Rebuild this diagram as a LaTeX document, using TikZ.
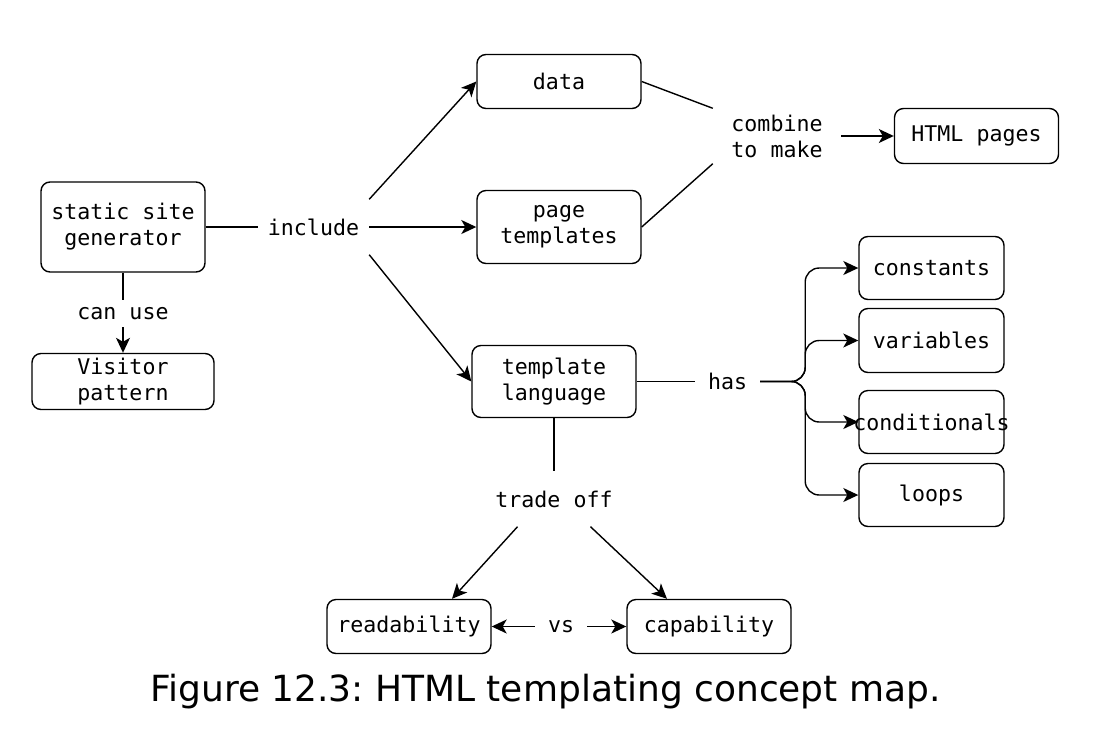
\documentclass[tikz,border=0pt]{standalone}
\usepackage{fontspec}
\setmainfont{DejaVu Sans}
\newfontfamily\monof{DejaVu Sans Mono}
\usetikzlibrary{arrows.meta,calc}
\frenchspacing
\begin{document}
\begin{tikzpicture}[x=1pt,y=-1pt,
  box/.style={draw, rounded corners=9pt, line width=1.4pt, inner sep=0pt, align=center,
    font=\monof\fontsize{21.6}{26}\selectfont},
  lbl/.style={inner sep=0pt, align=center, font=\monof\fontsize{21.6}{26}\selectfont},
  conn/.style={line width=1.4pt},
  arr/.style={conn, -{Stealth[length=15pt,width=14pt,inset=4pt]}},
  capt/.style={font=\fontsize{36}{43}\selectfont, inner sep=0pt}
]
\useasboundingbox (0,0) rectangle (1101,732);
% concept boxes
\node[box,minimum width=164pt,minimum height=90pt] (ssg) at (123,227) {static site\\generator};
\node[box,minimum width=182pt,minimum height=56pt] (vp) at (123,381.5) {Visitor\\pattern};
\node[box,minimum width=164pt,minimum height=54pt] (data) at (559,81.5) {data};
\node[box,minimum width=164pt,minimum height=73pt] (pt) at (559,227) {page\\templates};
\node[box,minimum width=164pt,minimum height=72pt] (tl) at (554,381.5) {template\\language};
\node[box,minimum width=164pt,minimum height=55pt] (html) at (976.5,136) {HTML pages};
\node[box,minimum width=145pt,minimum height=63pt] (const) at (931.5,268) {constants};
\node[box,minimum width=145pt,minimum height=64pt] (var) at (931.5,340.5) {variables};
\node[box,minimum width=145pt,minimum height=63pt] (cond) at (931.5,422) {\hbox to 145pt{\hss conditionals\hss}};
\node[box,minimum width=145pt,minimum height=63pt] (loops) at (931.5,495) {loops};
\node[box,minimum width=164pt,minimum height=54pt] (rd) at (409,626.5) {readability};
\node[box,minimum width=164pt,minimum height=54pt] (cap) at (709,626.5) {capability};
% link labels
\node[lbl,minimum width=111pt,minimum height=55pt] (inc) at (313.5,227) {include};
\node[lbl,minimum width=100pt,minimum height=27pt] (cu) at (123,313.5) {can use};
\node[lbl,minimum width=128pt,minimum height=55pt] (comb) at (777,136) {combine\\to make};
\node[lbl,minimum width=65pt,minimum height=40pt] (has) at (727.5,381.5) {has};
\node[lbl,minimum width=150pt,minimum height=55pt] (to) at (554,499) {trade off};
\node[lbl,minimum width=52pt,minimum height=30pt] (vs) at (561,626.5) {vs};
% connectors
\draw[conn] (ssg.east) -- (inc.west);
\draw[arr] (inc.north east) -- (data.west);
\draw[arr] (inc.east) -- (pt.west);
\draw[arr] (inc.south east) -- (tl.west);
\draw[conn] (data.east) -- (comb.north west);
\draw[conn] (pt.east) -- (comb.south west);
\draw[arr] (comb.east) -- (html.west);
\draw[conn] (ssg.south) -- (cu.north);
\draw[arr] (cu.south) -- (vp.north);
\draw[conn] (tl.east) -- (has.west);
\coordinate (hj) at ($(has.east)+(45,0)$);
\foreach \t in {const,var,cond,loops}
  \draw[arr,rounded corners=14pt] (has.east) -- (hj) |- (\t.west);
\draw[conn] (tl.south) -- (to.north);
\draw[arr] ($(to.south)+(-36.5,0)$) -- ($(rd.north)+(43,0)$);
\draw[arr] ($(to.south)+(36.5,0)$) -- ($(cap.north)+(-42,0)$);
\draw[arr] (vs.west) -- (rd.east);
\draw[arr] (vs.east) -- (cap.west);
% caption
\node[capt,anchor=base] (caption) at (545.5,701) {Figure 12.3: HTML templating concept map.};
\end{tikzpicture}
\end{document}
